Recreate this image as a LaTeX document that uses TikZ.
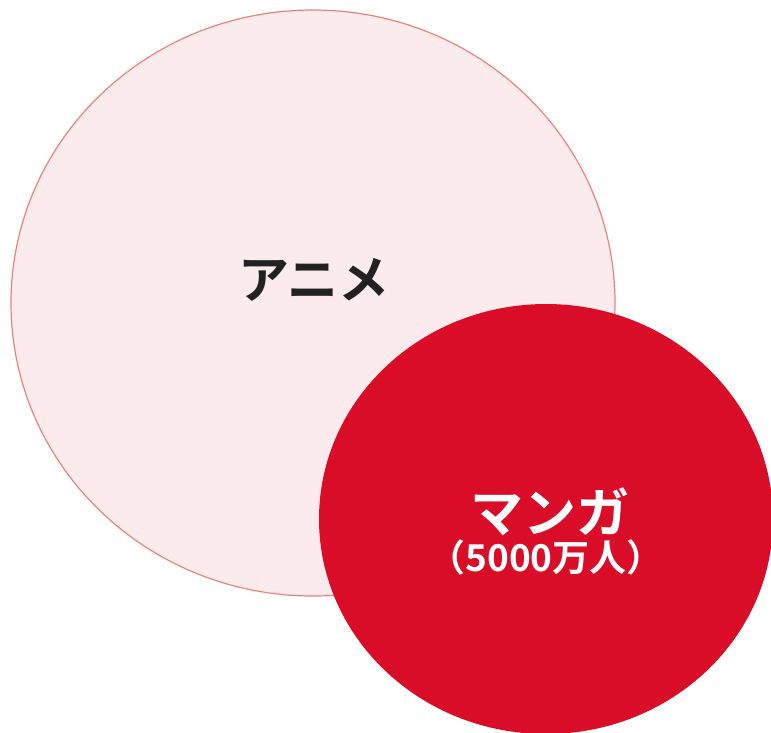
\documentclass[tikz,border=0pt]{standalone}
\usepackage{fontspec}
\newfontfamily\cjk{Noto Sans CJK JP}[BoldFont={Noto Sans CJK JP Bold}]
\definecolor{pinkfill}{HTML}{FCEBEC}
\definecolor{pinkline}{HTML}{E8847C}
\definecolor{mangared}{HTML}{D90D27}
\definecolor{darktext}{HTML}{222222}
\begin{document}
\begin{tikzpicture}[x=1pt,y=-1pt,
  bigset/.style={fill=pinkfill,draw=pinkline,line width=1.2pt},
  redset/.style={fill=mangared,draw=none},
  lbl/.style={font=\cjk\bfseries,inner sep=0pt,anchor=center}]
\useasboundingbox (0,0) rectangle (771,732);
\begin{scope}
\clip (0,0) rectangle (771,732);
\draw[bigset] (313,303) ellipse [x radius=302, y radius=293];
\fill[redset] (546,519) ellipse [x radius=227, y radius=215];
\end{scope}
\node[lbl,text=darktext,font=\cjk\bfseries\fontsize{51}{60}\selectfont] (anime) at (314,280) {アニメ};
\node[lbl,text=white,font=\cjk\bfseries\fontsize{53}{60}\selectfont] (manga) at (550,512) {マンガ};
\node[lbl,text=white,font=\cjk\bfseries\fontsize{37}{44}\selectfont] (count) at (546,557) {（5000万人）};
\end{tikzpicture}
\end{document}
